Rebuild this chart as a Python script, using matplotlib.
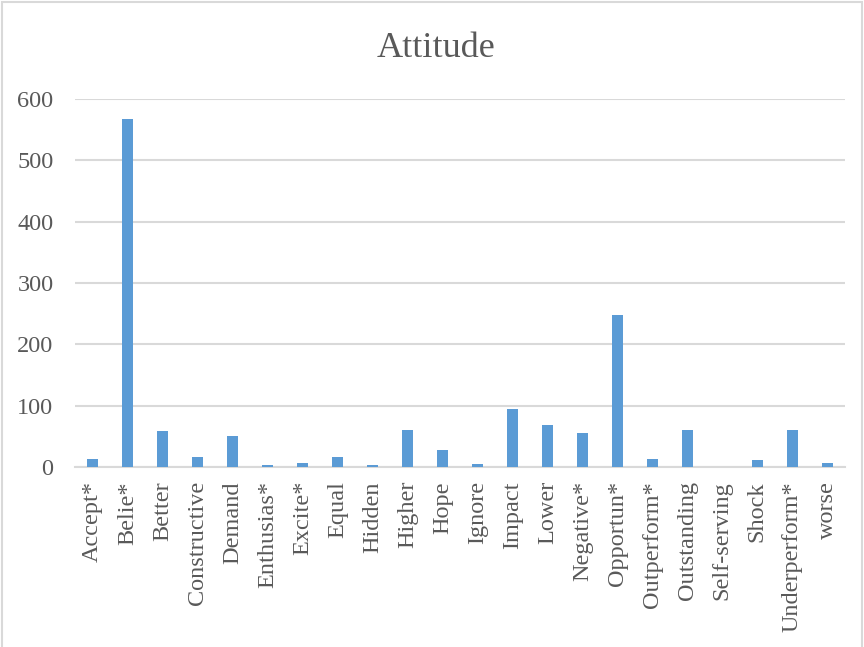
import matplotlib
matplotlib.use('Agg')
import matplotlib.pyplot as plt
from matplotlib.patches import Rectangle

words = ['Accept*', 'Belie*', 'Better', 'Constructive', 'Demand', 'Enthusias*',
         'Excite*', 'Equal', 'Hidden', 'Higher', 'Hope', 'Ignore', 'Impact',
         'Lower', 'Negative*', 'Opportun*', 'Outperform*', 'Outstanding',
         'Self-serving', 'Shock', 'Underperform*', 'worse']
counts = [13, 567, 59, 17, 50, 3, 6, 16, 4, 60, 28, 5, 94,
          68, 56, 248, 14, 60, 0, 12, 60, 6]
yticks = [0, 100, 200, 300, 400, 500, 600]

plt.rcParams['font.family'] = ['Liberation Serif', 'DejaVu Serif']
grey = '#595959'

fig = plt.figure(figsize=(8.64, 6.47), dpi=100)
ax = fig.add_axes([0.0868, 0.278, 0.891, 0.569])

x = range(len(words))
ax.bar(x, counts, width=0.32, color='#5b9bd5', zorder=3)

ax.set_xlim(-0.5, len(words) - 0.5)
ax.set_ylim(0, 600)
ax.set_yticks(yticks)
ax.set_xticks(list(x))
ax.set_xticklabels(words, rotation=90, fontsize=17.5, color=grey)
ax.tick_params(axis='y', labelsize=17.5, labelcolor=grey, length=0, pad=15.5)
ax.tick_params(axis='x', length=0, pad=10)

ax.grid(axis='y', color='#d9d9d9', linewidth=1.5, zorder=0)
for s in ['top', 'right', 'left']:
    ax.spines[s].set_visible(False)
ax.spines['bottom'].set_color('#d9d9d9')
ax.spines['bottom'].set_linewidth(1.5)

fig.text(0.505, 0.912, 'Attitude', ha='center', va='baseline',
         fontsize=26, color=grey)

# light frame around the chart area
fig.patches.append(Rectangle((0.002, -0.01), 0.996, 1.007, transform=fig.transFigure,
                             fill=False, edgecolor='#d9d9d9', linewidth=1.5))

fig.savefig('out.png', dpi=100)
